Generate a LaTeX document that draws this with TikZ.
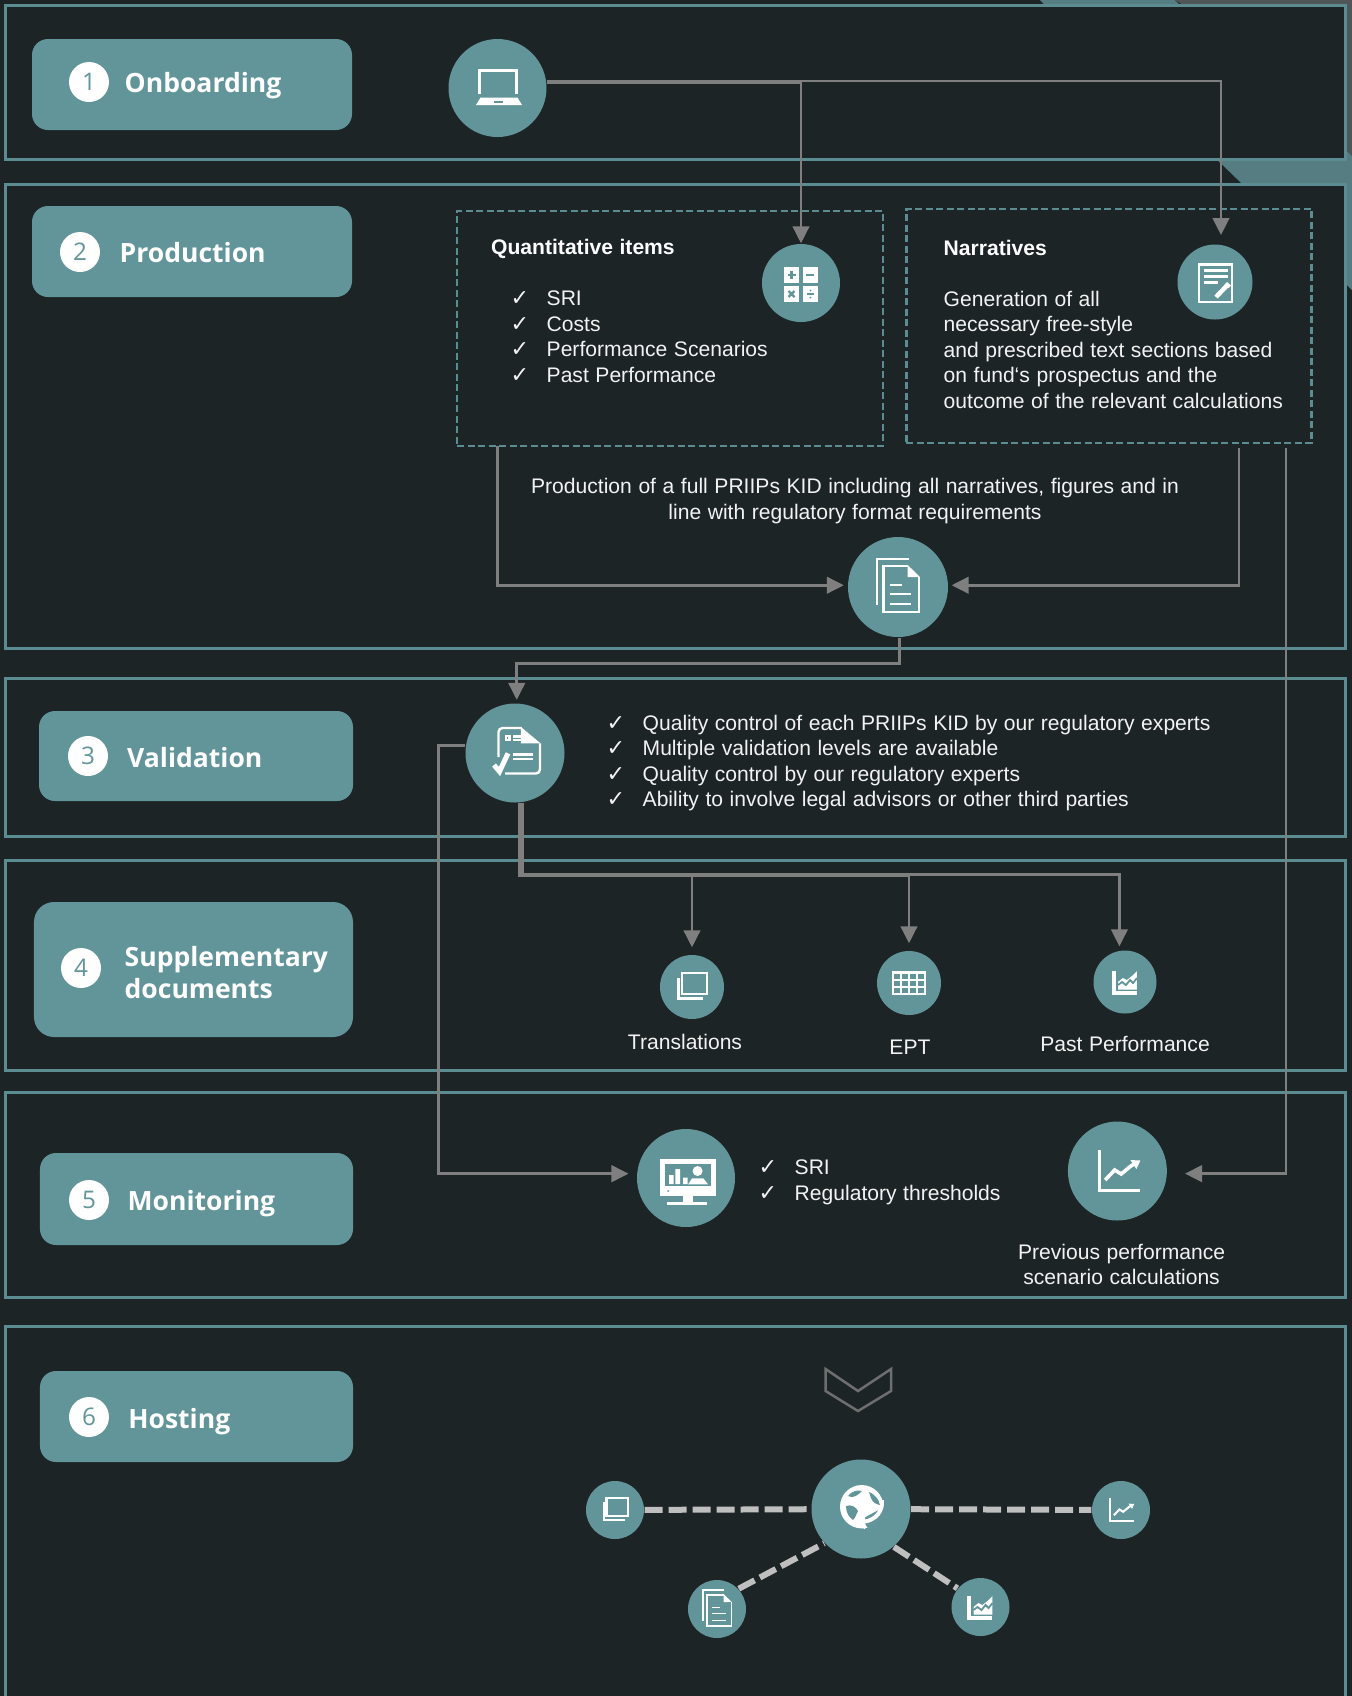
\documentclass[tikz,border=0pt]{standalone}
\usepackage{fontspec}
\usepackage{tikz}
\usetikzlibrary{arrows.meta}
\setmainfont{Liberation Sans}[WordSpace=1.12]
\newfontfamily\headfont{Open Sans}
\newfontfamily\chkfont{DejaVu Sans}[Scale=1.05]
\definecolor{bgdark}{HTML}{1D2426}
\definecolor{tealfill}{HTML}{62959A}
\definecolor{tealline}{HTML}{5B8C91}
\definecolor{tealback}{HTML}{567E82}
\definecolor{greyback}{HTML}{505558}
\definecolor{arrowgrey}{HTML}{7F7F7F}
\definecolor{dashgrey}{HTML}{BFBFBF}
\definecolor{chevgrey}{HTML}{6E6E6E}
\newcommand{\chk}{\makebox[0.36cm][l]{\chkfont ✓}}
\tikzset{icon/.style n args={2}{shift={(#1.center)},scale=#2*0.01,yscale=-1,line width=#2*0.024cm,draw=white,fill=white}}
\newcommand{\iconlaptop}[2]{\begin{scope}[icon={#1}{#2}]
    \draw (-18,6) -- (-18,-17.5) -- (19,-17.5) -- (19,6);
    \fill (-21.5,17) -- (-17,9.5) -- (20,9.5) -- (24.5,17) -- cycle;
    \fill[tealfill] (-4,12.5) rectangle (6,14.5);
\end{scope}}
\newcommand{\iconcalc}[2]{\begin{scope}[icon={#1}{#2}]
    \fill (-17,-16) rectangle (-2.3,0);
    \fill (2.3,-16) rectangle (17,0);
    \fill (-17,3.3) rectangle (-2.3,18.7);
    \fill (2.3,3.3) rectangle (17,18.7);
    \draw[tealfill] (-13.5,-8) -- (-5.5,-8) (-9.5,-12) -- (-9.5,-4);
    \draw[tealfill] (5.5,-8) -- (13.5,-8);
    \draw[tealfill] (-12.5,8) -- (-6.5,14) (-12.5,14) -- (-6.5,8);
    \draw[tealfill] (6,11) -- (13,11);
    \fill[tealfill] (9.5,7.5) circle (1) (9.5,14.5) circle (1);
\end{scope}}
\newcommand{\iconnote}[2]{\begin{scope}[icon={#1}{#2}]
    \draw (-16,-17.5) rectangle (17,20);
    \draw (-11.5,-11.5) -- (13,-11.5) (-11.5,-5.5) -- (13,-5.5) (-11.5,0.5) -- (3,0.5);
    \draw[line width=#2*0.045cm] (1,15) -- (12,3.5);
    \fill (12,0) -- (16,3.5) -- (13.5,6) -- (9.5,2.5) -- cycle;
\end{scope}}
\newcommand{\icondoc}[2]{\begin{scope}[icon={#1}{#2}]
    \draw (-21,18) -- (-21,-28) -- (11,-28);
    \draw (9.7,-21) -- (-14.7,-21) -- (-14.7,25) -- (21.3,25) -- (21.3,-10);
    \fill (9.7,-22) -- (22,-10) -- (9.7,-10) -- cycle;
    \draw (-8,-2.3) -- (4,-2.3) (-8,6.7) -- (13,6.7) (-8,16.7) -- (13,16.7);
\end{scope}}
\newcommand{\iconcheck}[2]{\begin{scope}[icon={#1}{#2}]
    \draw[rounded corners=0.04cm] (6.7,-25) -- (-16.5,-25) -- (-16.5,4);
    \draw[rounded corners=0.04cm] (25,-9.7) -- (25,20.5) -- (-10,20.5);
    \fill (6,-26) -- (25.5,-9.7) -- (6,-9.7) -- cycle;
    \draw (-9.3,-17) rectangle (-5.7,-13);
    \draw (-1.7,-16.5) -- (6,-16.5) (-1.7,-12.8) -- (8,-12.8);
    \draw (-1.7,1.3) -- (18,1.3) (-1.7,6) -- (18,6);
    \draw[line width=#2*0.05cm] (-21,12) -- (-15.5,18.5) -- (-7,0.3);
\end{scope}}
\newcommand{\iconcopy}[2]{\begin{scope}[icon={#1}{#2}]
    \draw (-10,-14) rectangle (15,7);
    \draw (-13.5,-9) -- (-13.5,11.5) -- (11.5,11.5);
\end{scope}}
\newcommand{\icongrid}[2]{\begin{scope}[icon={#1}{#2}]
    \draw (-16,-10.5) rectangle (16,11);
    \draw (-8,-10.5) -- (-8,11) (0,-10.5) -- (0,11) (8,-10.5) -- (8,11);
    \draw (-16,-3.3) -- (16,-3.3) (-16,3.8) -- (16,3.8);
\end{scope}}
\newcommand{\iconarea}[2]{\begin{scope}[icon={#1}{#2}]
    \draw[line width=#2*0.04cm] (-11.5,-11) -- (-11.5,11) -- (12,11);
    \fill (-7,7.5) -- (-7,0) -- (-2,-4) -- (2,-2) -- (7,-6) -- (12,-11) -- (12,7.5) -- cycle;
    \draw[tealfill,line width=#2*0.018cm] (-7,3) -- (-3,0) -- (1,3) -- (5,-2) -- (8,1) -- (12,-4);
\end{scope}}
\newcommand{\iconscreen}[2]{\begin{scope}[icon={#1}{#2}]
    \fill (-26,-19) rectangle (30,17.7);
    \fill[tealfill] (-21,-14) rectangle (25,8);
    \fill (-17,-3) rectangle (-12.3,6) (-10.6,-9) rectangle (-6,6) (-2.9,-0.3) rectangle (1.6,6);
    \fill (11.6,-7) circle (5);
    \fill (2.2,6.3) -- (6,0.3) -- (17.3,0.3) -- (22,6.3) -- cycle;
    \fill[tealfill] (-18,13) circle (1);
    \fill (-2.6,17) rectangle (7,24.3);
    \fill (-18.8,24.3) rectangle (21,27);
\end{scope}}
\newcommand{\iconline}[2]{\begin{scope}[icon={#1}{#2}]
    \draw[line width=#2*0.03cm] (-18.4,-21) -- (-18.4,19) -- (22.6,19);
    \draw[line width=#2*0.036cm] (-12.3,9) -- (-2.7,-1) -- (3.8,3) -- (12.6,-4.3) -- (18,-8);
    \fill (13,-11) -- (23,-10.5) -- (19,-2) -- cycle;
\end{scope}}
\newcommand{\iconglobe}[2]{\begin{scope}[icon={#1}{#2}]
    \fill (0.7,-2.3) circle (21.7);
    \fill[tealfill] (-13,-13) .. controls (-8,-19) and (-3,-19) .. (1,-18) .. controls (-3,-14) and (-8,-10) .. (-13,-13) -- cycle;
    \fill[tealfill] (8,-17) .. controls (15,-14) and (18,-9) .. (19,-4) .. controls (15,-5) and (12,-6) .. (10,-11) -- cycle;
    \fill[tealfill] (-15,-3) .. controls (-10,-5) and (-5,-2) .. (-3,2) .. controls (-5,5) and (-5,8) .. (-8,11) .. controls (-12,8) and (-15,4) .. (-15,-3) -- cycle;
    \fill[tealfill] (1,10) -- (23,-2) -- (24,8) -- (10,24) -- cycle;
    \draw[line width=#2*0.04cm] (21,-9) .. controls (22,2) and (15,11) .. (3,12.7);
    \fill (-9,12) -- (4,4.3) -- (4,20.3) -- cycle;
\end{scope}}

\begin{document}
\begin{tikzpicture}[>={Triangle[length=0.17cm,width=0.165cm]},
    panel/.style={draw=tealline,fill=bgdark,line width=0.03cm},
    dbox/.style={draw=tealline,line width=0.028cm,dash pattern=on 0.07cm off 0.035cm,inner sep=0},
    pill/.style={fill=tealfill,rounded corners=0.16cm,minimum width=3.2cm,minimum height=0.91cm,inner sep=0},
    numnode/.style={fill=white,circle,minimum size=0.4cm,inner sep=0,text=tealfill,font=\headfont\fontsize{6.9}{8}\selectfont},
    cnode/.style={fill=tealfill,circle,minimum size=1cm,inner sep=0},
    snode/.style={fill=tealfill,circle,minimum size=0.64cm,inner sep=0},
    hnode/.style={fill=tealfill,circle,minimum size=0.58cm,inner sep=0},
    head/.style={text=white,inner sep=0,anchor=base west,align=left,font=\headfont\bfseries\fontsize{7.55}{9.1}\selectfont},
    body/.style={text=white!95!black,inner sep=0,font=\fontsize{6}{7.3}\selectfont},
    boldt/.style={text=white,inner sep=0,anchor=base west,font=\bfseries\fontsize{6}{7.3}\selectfont},
    link/.style={draw=arrowgrey,line width=0.027cm},
    hostlink/.style={draw=dashgrey,line width=0.06cm,dash pattern=on 0.18cm off 0.06cm}]

    \useasboundingbox (0,0) rectangle (13.52,-16.96);
    \fill[bgdark] (0,0) rectangle (13.52,-16.96);

    % corner shapes behind the panels
    \fill[tealback] (10.4,0) -- (11.75,0) -- (11.9,-0.15) -- (10.55,-0.15) -- cycle;
    \fill[greyback] (11.75,0) -- (13.52,0) -- (13.52,-1.56) -- (13.46,-1.5) -- (11.83,-0.05) -- cycle;
    \fill[tealback] (12.07,-1.5) -- (13.46,-1.5) -- (13.52,-1.56) -- (13.52,-2.9) -- cycle;

    % panels
    \draw[panel] (0.05,-0.05) rectangle (13.45,-1.59);
    \draw[panel] (0.05,-1.84) rectangle (13.45,-6.48);
    \draw[panel] (0.05,-6.78) rectangle (13.45,-8.36);
    \draw[panel] (0.05,-8.6) rectangle (13.45,-10.7);
    \draw[panel] (0.05,-10.92) rectangle (13.45,-12.97);
    \draw[panel] (0.05,-16.96) -- (0.05,-13.26) -- (13.45,-13.26) -- (13.45,-16.96);

    % titles
    \node[pill] (pill1) at (1.92,-0.845) {};
    \node[pill] (pill2) at (1.92,-2.515) {};
    \node[pill,minimum width=3.14cm,minimum height=0.9cm] (pill3) at (1.96,-7.56) {};
    \node[pill,minimum width=3.19cm,minimum height=1.35cm,rounded corners=0.2cm] (pill4) at (1.935,-9.695) {};
    \node[pill,minimum width=3.13cm,minimum height=0.92cm] (pill5) at (1.965,-11.99) {};
    \node[pill,minimum width=3.13cm] (pill6) at (1.965,-14.165) {};

    \node[numnode] (num1) at (0.89,-0.82) {1};
    \node[numnode] (num2) at (0.8,-2.52) {2};
    \node[numnode] (num3) at (0.88,-7.56) {3};
    \node[numnode] (num4) at (0.81,-9.68) {4};
    \node[numnode] (num5) at (0.89,-12) {5};
    \node[numnode] (num6) at (0.89,-14.17) {6};

    \node[head] (title1) at (1.24,-0.92) {Onboarding};
    \node[head] (title2) at (1.19,-2.62) {Production};
    \node[head] (title3) at (1.265,-7.67) {Validation};
    \node[head,anchor=north west] (title4) at (1.24,-9.46) {Supplementary\\documents};
    \node[head] (title5) at (1.27,-12.1) {Monitoring};
    \node[head] (title6) at (1.276,-14.28) {Hosting};

    % dashed boxes
    \node[dbox,minimum width=4.26cm,minimum height=2.35cm] (quant) at (6.7,-3.285) {};
    \node[dbox,minimum width=4.055cm,minimum height=2.34cm] (narr) at (11.09,-3.26) {};

    % step circles
    \node[cnode,minimum size=0.98cm] (laptop) at (4.975,-0.88) {};
    \node[cnode,minimum size=0.78cm] (calc) at (8.01,-2.83) {};
    \node[cnode,minimum size=0.75cm] (note) at (12.15,-2.82) {};
    \node[cnode] (doc) at (8.98,-5.87) {};
    \node[cnode,minimum size=0.99cm] (val) at (5.15,-7.53) {};
    \node[snode] (trans) at (6.92,-9.87) {};
    \node[snode] (ept) at (9.09,-9.83) {};
    \node[snode,minimum size=0.63cm] (past) at (11.25,-9.82) {};
    \node[cnode,minimum size=0.98cm] (mon) at (6.86,-11.78) {};
    \node[cnode,minimum size=0.99cm] (prev) at (11.174,-11.71) {};
    \node[cnode,minimum size=0.99cm] (globe) at (8.61,-15.09) {};
    \node[hnode] (hcopy) at (6.15,-15.1) {};
    \node[hnode] (hline) at (11.21,-15.1) {};
    \node[hnode] (hdoc) at (7.17,-16.09) {};
    \node[hnode] (harea) at (9.805,-16.07) {};

    \coordinate (narrin) at (12.21,-2.35);
    \coordinate (quantout) at (4.975,-4.46);
    \coordinate (narrout) at (12.39,-4.48);
    \coordinate (prevout) at (12.86,-4.48);

    % connectors
    \draw[link,->] (laptop.6) -| (calc.north);
    \draw[link,->] (laptop.8) -| (narrin);
    \draw[link,->,shorten >=0.035cm] (quantout) |- (doc.178);
    \draw[link,->,shorten >=0.03cm] (narrout) |- (doc.2);
    \draw[link,->,shorten >=0.03cm] (doc.-88) -- ++(0,-0.26) -| (val.88);
    \draw[link,->,shorten >=0.08cm] (val.171) -- ++(-0.27,0) |- (mon.175);
    \draw[link,->,shorten >=0.175cm] (prevout) |- (prev.-3.5);
    \draw[link,->,shorten >=0.07cm] (val.-85) -- ++(0,-0.73) -| (trans.north);
    \draw[link,->,shorten >=0.07cm] (val.-83) -- ++(0,-0.725) -| (ept.north);
    \draw[link,->,shorten >=0.04cm] (val.-81) -- ++(0,-0.72) -| (past.100);

    \begin{scope}[hostlink]
    \draw (hcopy) -- (globe);
    \draw (globe) -- (hline);
    \draw (hdoc.43) -- (globe.223);
    \draw (globe.-49) -- (harea.141);
    \end{scope}

    \draw[line width=0.025cm,draw=chevgrey] (8.256,-13.69) -- (8.58,-13.91) -- (8.91,-13.69) -- (8.91,-13.91) -- (8.58,-14.11) -- (8.256,-13.91) -- cycle;

    % icons
    \iconlaptop{laptop}{1}
    \iconcalc{calc}{1}
    \iconnote{note}{1}
    \icondoc{doc}{1}
    \iconcheck{val}{1}
    \iconcopy{trans}{1}
    \icongrid{ept}{1}
    \iconarea{past}{1}
    \iconscreen{mon}{1}
    \iconline{prev}{1}
    \iconglobe{globe}{1}
    \iconcopy{hcopy}{0.85}
    \iconline{hline}{0.58}
    \icondoc{hdoc}{0.68}
    \iconarea{harea}{1}

    % texts
    \node[boldt] (quanttitle) at (4.905,-2.54) {Quantitative items};
    \node[body,anchor=north west,align=left] (quantlist) at (5.1,-2.9) {\chk SRI\\\chk Costs\\\chk Performance Scenarios\\\chk Past Performance};
    \node[boldt] (narrtitle) at (9.43,-2.55) {Narratives};
    \node[body,anchor=north west,align=left] (narrtext) at (9.43,-2.9) {Generation of all\\necessary free-style\\and prescribed text sections based\\on fund‘s prospectus and the\\outcome of the relevant calculations};
    \node[body,anchor=north,align=center] (prodtext) at (8.55,-4.78) {Production of a full PRIIPs KID including all narratives, figures and in\\line with regulatory format requirements};
    \node[body,anchor=north west,align=left] (vallist) at (6.06,-7.14) {\chk Quality control of each PRIIPs KID by our regulatory experts\\\chk Multiple validation levels are available\\\chk Quality control by our regulatory experts\\\chk Ability to involve legal advisors or other third parties};
    \node[body,anchor=base] (translabel) at (6.85,-10.49) {Translations};
    \node[body,anchor=base] (eptlabel) at (9.1,-10.54) {EPT};
    \node[body,anchor=base] (pastlabel) at (11.25,-10.51) {Past Performance};
    \node[body,anchor=north west,align=left] (monlist) at (7.58,-11.59) {\chk SRI\\\chk Regulatory thresholds};
    \node[body,anchor=north,align=center] (prevtext) at (11.216,-12.43) {Previous performance\\scenario calculations};
\end{tikzpicture}
\end{document}
